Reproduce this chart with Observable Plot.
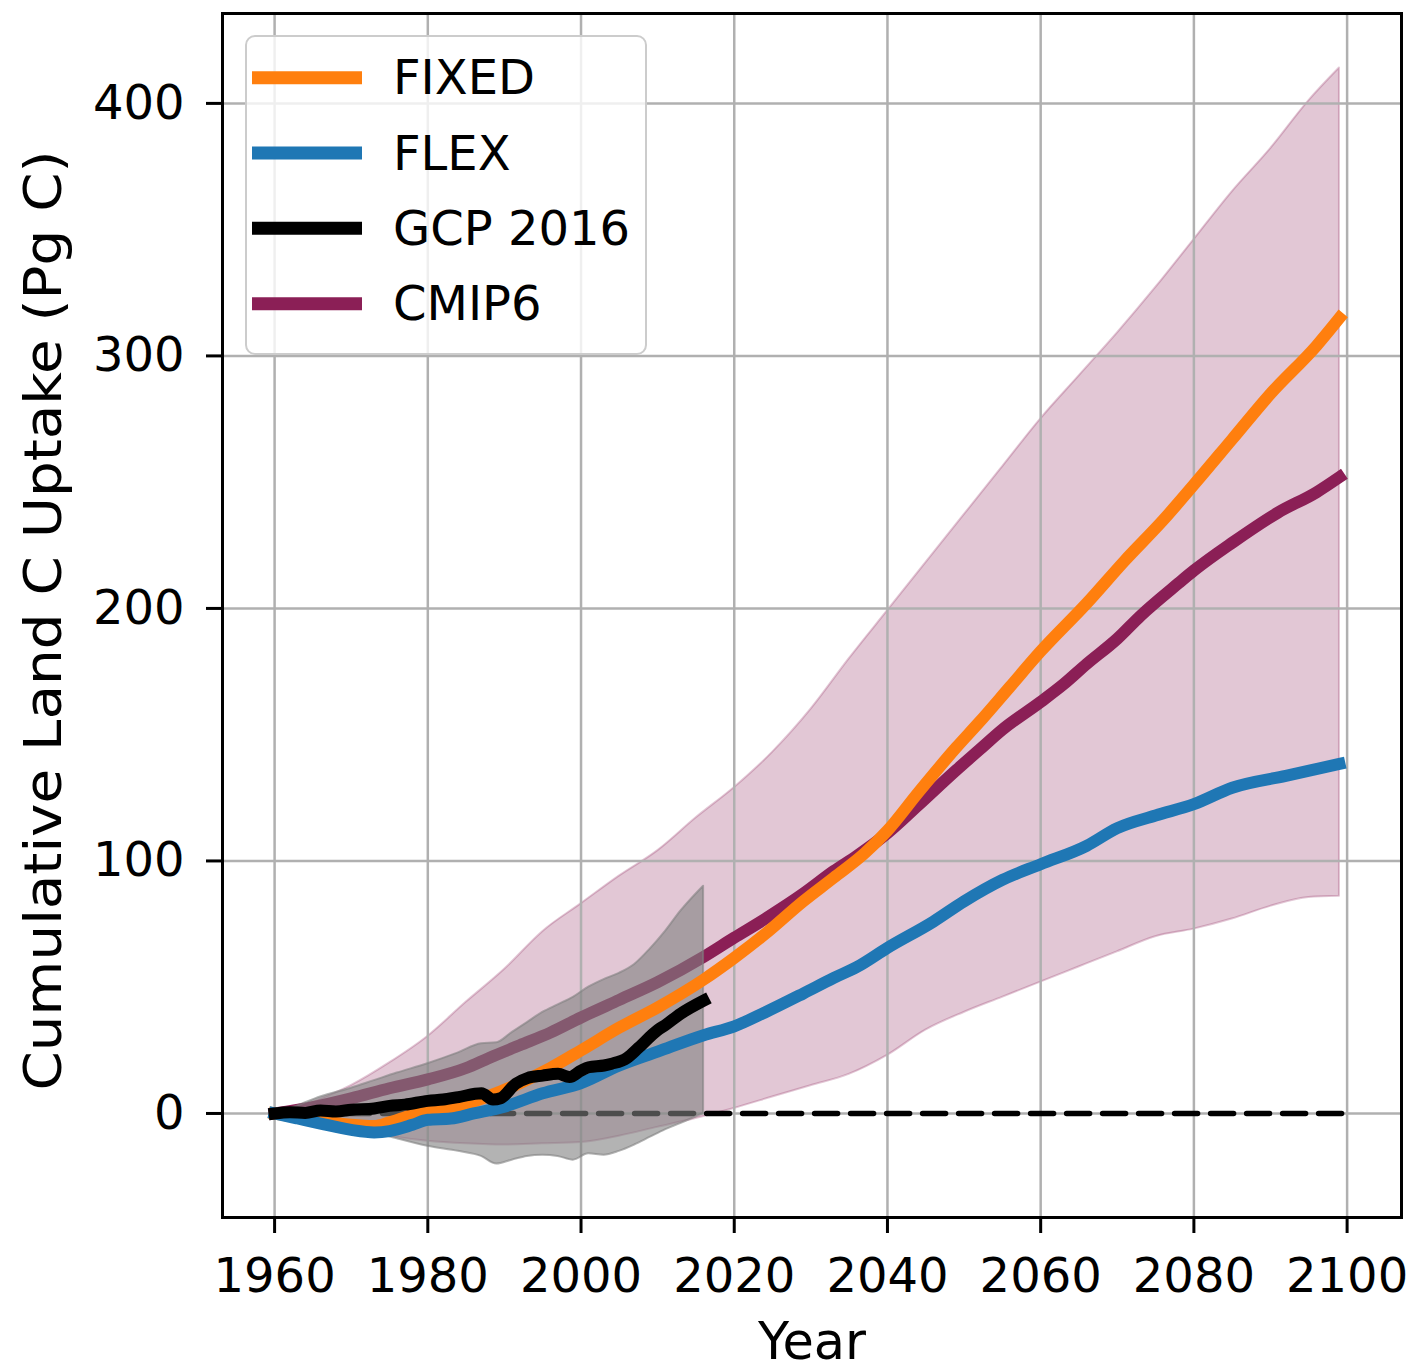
<!DOCTYPE html>
<html>
<head>
<meta charset="utf-8">
<script src="https://cdn.jsdelivr.net/npm/d3@7"></script>
<script src="https://cdn.jsdelivr.net/npm/@observablehq/plot@0.6"></script>
<style>
  html, body { margin: 0; padding: 0; background: #ffffff; }
  #chart { width: 1411px; height: 1370px; }
</style>
</head>
<body>
<div id="chart"></div>
<script>
// ---------- data ----------
const xTicks = [1960, 1980, 2000, 2020, 2040, 2060, 2080, 2100];
const yTicks = [0, 100, 200, 300, 400];

const seriesNames = ["FIXED", "FLEX", "GCP 2016", "CMIP6"];
const seriesColors = ["#ff7f0e", "#1f77b4", "#000000", "#8b1f56"];

// CMIP6 range (pink band)
const cmipBandYears = [1960, 1965, 1970, 1975, 1980, 1985, 1990, 1995, 2000, 2005, 2010, 2015, 2020, 2025, 2030, 2035, 2040, 2045, 2050, 2055, 2060, 2065, 2070, 2075, 2080, 2085, 2090, 2095, 2099];
const cmipBandHigh  = [0, 4.5, 11, 20, 30.5, 44, 57, 72, 83, 94, 104, 117, 129, 143, 160, 180, 199, 218, 237, 256, 275, 292, 309, 327, 346, 365, 382, 401, 414];
const cmipBandLow   = [0, -2.5, -6, -9, -11, -12, -12.5, -12, -11.5, -9, -5.5, -2, 2, 6.5, 11, 15.5, 23, 33, 40, 46, 52, 58, 64, 70, 73, 77, 82, 85.5, 86];

// GCP 2016 uncertainty (grey band)
const gcpBandYears = [1960, 1963, 1966, 1970, 1973, 1976, 1980, 1984, 1987, 1989, 1991, 1993, 1995, 1997, 1999, 2001, 2003, 2005, 2007, 2009, 2011, 2013, 2016];
const gcpBandHigh  = [0, 3, 6.5, 10, 13, 16, 19.7, 24, 27.6, 28, 32, 36, 40, 43, 46, 50, 53, 55.5, 59, 65, 72, 80, 90];
const gcpBandLow   = [0, -1.5, -3, -5.5, -7.5, -10, -13, -15, -17, -20, -18.5, -17, -16.5, -17, -18.5, -16, -16.5, -15, -12.5, -9.5, -6.5, -4, 0];

// FIXED
const fixedYears  = [1960, 1963, 1966, 1970, 1973, 1975, 1978, 1980, 1984, 1988, 1992, 1996, 2000, 2005, 2010, 2016, 2020, 2024, 2029, 2033, 2037, 2040, 2044, 2049, 2052, 2056, 2060, 2066, 2071, 2076, 2080, 2085, 2090, 2096, 2099];
const fixedValues = [0, -1.5, -3, -4.5, -5, -3.5, -0.5, 1.5, 3, 7, 12, 18, 25, 34, 42, 53, 61.6, 71, 84, 93.4, 103, 112, 127, 145, 155, 169, 183, 202, 219, 235, 249, 267, 285, 304, 315];

// FLEX
const flexYears  = [1960, 1963, 1966, 1970, 1973, 1975, 1978, 1980, 1983, 1986, 1990, 1995, 2000, 2005, 2010, 2016, 2020, 2024, 2029, 2033, 2036, 2040, 2046, 2050, 2055, 2060, 2066, 2070, 2075, 2080, 2085, 2092, 2099];
const flexValues = [0, -2, -4, -6.5, -7.5, -7, -4.5, -2.5, -2, 0, 2.7, 8, 12, 19, 24.5, 31, 34.5, 40, 47.5, 53.7, 58, 65.6, 76, 84, 92.5, 98.7, 106, 113, 118, 122.5, 129, 133.7, 138.4];

// GCP 2016
const gcpYears  = [1960, 1962, 1964, 1966, 1968, 1970, 1973, 1975, 1977, 1980, 1982, 1984, 1987, 1988.5, 1989.5, 1991.5, 1993, 1995, 1997, 1998.5, 2000, 2001, 2003, 2004, 2006, 2007.5, 2010, 2011, 2013, 2016];
const gcpValues = [0, 0.5, 0.2, 1.2, 0.8, 1.5, 2, 3, 3.5, 5, 5.5, 6.5, 8, 5.5, 6, 11.8, 14, 15, 15.7, 14.4, 17, 18.3, 19, 19.7, 22, 26, 33, 35, 39.5, 44.7];

// CMIP6 mean
const cmipYears  = [1960, 1965, 1970, 1975, 1980, 1985, 1988, 1992, 1996, 2000, 2005, 2010, 2016, 2020, 2024, 2029, 2033, 2036, 2040, 2044, 2049, 2052, 2055, 2060, 2063, 2066, 2070, 2073, 2078, 2080, 2085, 2091, 2096, 2099];
const cmipValues = [0, 2.5, 6, 10, 13.5, 18, 22, 27, 32, 38, 45, 52, 62, 69.6, 77, 87, 96, 102, 111, 122, 136, 144, 152, 163, 170, 178, 188, 197, 210, 215, 226, 238, 246, 252];

// zero reference line span
const zeroYears = [1960, 2100];
const zeroValues = [0, 0];

// ---------- tables ----------
const zipBand = (ys, lo, hi) => ys.map((year, i) => ({year, lo: lo[i], hi: hi[i]}));
const zipLine = (ys, vs) => ys.map((year, i) => ({year, value: vs[i]}));

const cmipBand = zipBand(cmipBandYears, cmipBandLow, cmipBandHigh);
const gcpBand = zipBand(gcpBandYears, gcpBandLow, gcpBandHigh);
const fixed = zipLine(fixedYears, fixedValues);
const flex = zipLine(flexYears, flexValues);
const gcp = zipLine(gcpYears, gcpValues);
const cmip = zipLine(cmipYears, cmipValues);
const zero = zipLine(zeroYears, zeroValues);

const LW = 12;
const lineOpts = (color) => ({x: "year", y: "value", stroke: color, strokeWidth: LW, strokeLinecap: "square", strokeLinejoin: "round", curve: "monotone-x"});

const W = 1411, H = 1370;
const mL = 222, mR = 10, mT = 13, mB = 153;

const chart = Plot.plot({
  width: W,
  height: H,
  marginLeft: mL,
  marginRight: mR,
  marginTop: mT,
  marginBottom: mB,
  style: {fontFamily: "DejaVu Sans", fontSize: "48px", background: "#ffffff", color: "#000000"},
  x: {domain: [1953.2, 2107.1], label: null},
  y: {domain: [-41.2, 435.6], label: null},
  marks: [
    Plot.areaY(cmipBand, {x: "year", y1: "lo", y2: "hi", curve: "monotone-x", fill: seriesColors[3], fillOpacity: 0.25, stroke: seriesColors[3], strokeOpacity: 0.25, strokeWidth: 2}),
    Plot.gridX(xTicks, {stroke: "#b0b0b0", strokeOpacity: 1, strokeWidth: 2.5}),
    Plot.gridY(yTicks, {stroke: "#b0b0b0", strokeOpacity: 1, strokeWidth: 2.5}),
    Plot.line(cmip, lineOpts(seriesColors[3])),
    Plot.line(zero, {x: "year", y: "value", stroke: "#000000", strokeWidth: 5.5, strokeDasharray: "23,13"}),
    Plot.areaY(gcpBand, {x: "year", y1: "lo", y2: "hi", curve: "monotone-x", fill: "#808080", fillOpacity: 0.6, stroke: "#808080", strokeOpacity: 0.6, strokeWidth: 2}),
    Plot.line(fixed, lineOpts(seriesColors[0])),
    Plot.line(flex, lineOpts(seriesColors[1])),
    Plot.line(gcp, lineOpts(seriesColors[2])),
    Plot.frame({stroke: "#000000", strokeWidth: 3}),
    Plot.axisX(xTicks, {tickSize: 16, tickPadding: 24, fontSize: 48, tickFormat: d => String(d), strokeWidth: 3, label: null}),
    Plot.axisY(yTicks, {tickSize: 16, tickPadding: 22, fontSize: 48, tickFormat: d => String(d), strokeWidth: 3, label: null}),
    Plot.text(["Year"], {frameAnchor: "bottom", dy: 141, fontSize: 51, textAnchor: "middle", text: d => d, fill: "#000000", className: "xlabel"}),
    Plot.text(["Cumulative Land C Uptake (Pg C)"], {frameAnchor: "left", dx: -178, dy: 5, rotate: -90, fontSize: 52, textAnchor: "middle", text: d => d, fill: "#000000", className: "ylabel"})
  ]
});

document.getElementById("chart").appendChild(chart);

// stretch the rotated y label along its length as in the reference
d3.select(chart).selectAll(".ylabel text")
  .attr("textLength", 940)
  .attr("lengthAdjust", "spacingAndGlyphs");

// ---------- legend (inside plot area, upper left) ----------
const svg = d3.select(chart);
const lg = svg.append("g").attr("class", "legend");
lg.append("rect")
  .attr("x", 246).attr("y", 36).attr("width", 400).attr("height", 318)
  .attr("rx", 9).attr("ry", 9)
  .attr("fill", "#ffffff").attr("fill-opacity", 0.8)
  .attr("stroke", "#cccccc").attr("stroke-width", 2);
const rowY = [77.7, 153, 228.3, 303.7];
seriesNames.forEach((name, i) => {
  lg.append("line")
    .attr("x1", 252).attr("x2", 362)
    .attr("y1", rowY[i]).attr("y2", rowY[i])
    .attr("stroke", seriesColors[i]).attr("stroke-width", LW + 1);
  lg.append("text")
    .attr("x", 393).attr("y", rowY[i] + 16.5)
    .attr("text-anchor", "start")
    .attr("font-size", 48).attr("font-family", "DejaVu Sans")
    .attr("fill", "#000000")
    .text(name);
});
</script>
</body>
</html>
